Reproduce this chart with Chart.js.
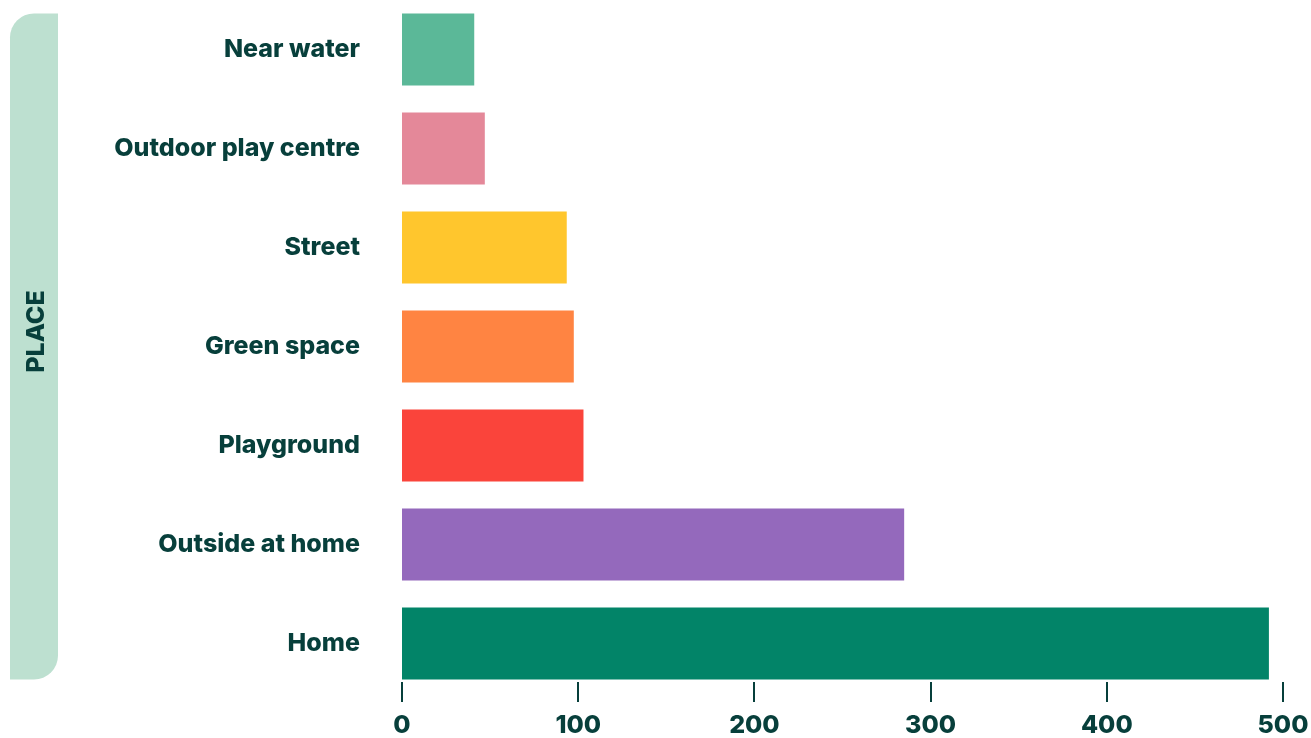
<!DOCTYPE html>
<html>
<head>
<meta charset="utf-8">
<script src="https://cdn.jsdelivr.net/npm/chart.js@4"></script>
<style>
  html, body { margin: 0; padding: 0; background: #fff; }
  #wrap { width: 1311px; height: 738px; }
</style>
</head>
<body>
<div id="wrap"><canvas id="grafico"></canvas></div>
<script>
const lugares = ["Near water", "Outdoor play centre", "Street", "Green space", "Playground", "Outside at home", "Home"];
const valores = [41, 47, 93.5, 97.5, 103, 285, 492];
const colores = ["#5bb898", "#e48899", "#ffc62d", "#ff8442", "#fa443b", "#9469bc", "#028468"];
const ticksX = [0, 100, 200, 300, 400, 500];
const tituloEje = "PLACE";

const TEXTO = "#073f3b";
const FUENTE = "Inter, 'Open Sans', sans-serif";

// fondo redondeado con el titulo del eje
const fondoEje = {
  id: "fondoEje",
  beforeDraw(chart) {
    const ctx = chart.ctx;
    const barras = chart.getDatasetMeta(0).data;
    const top = barras[0].y - barras[0].height / 2;
    const bottom = barras[barras.length - 1].y + barras[barras.length - 1].height / 2;
    const x = 10, w = 48, r = 24;
    ctx.save();
    ctx.fillStyle = "#bde0d0";
    ctx.beginPath();
    ctx.roundRect(x, top, w, bottom - top, [r, 0, r, 0]);
    ctx.fill();
    ctx.translate(x + w / 2 + 1, (top + bottom) / 2 - 15);
    ctx.rotate(-Math.PI / 2);
    ctx.fillStyle = TEXTO;
    ctx.font = "800 25px " + FUENTE;
    ctx.textAlign = "center";
    ctx.textBaseline = "middle";
    ctx.fillText(tituloEje, 0, 1);
    ctx.restore();
  }
};

// marcas de los ticks del eje x
const marcasX = {
  id: "marcasX",
  afterDatasetsDraw(chart) {
    const ctx = chart.ctx;
    const sx = chart.scales.x;
    const b = chart.chartArea.bottom;
    ctx.save();
    ctx.strokeStyle = TEXTO;
    ctx.lineWidth = 2;
    sx.ticks.forEach((t, i) => {
      const px = Math.round(sx.getPixelForTick(i));
      ctx.beginPath();
      ctx.moveTo(px, b - 11);
      ctx.lineTo(px, b + 9);
      ctx.stroke();
    });
    ctx.restore();
  }
};

new Chart(document.getElementById("grafico"), {
  type: "bar",
  data: {
    labels: lugares,
    datasets: [{
      data: valores,
      backgroundColor: colores,
      borderWidth: 0,
      categoryPercentage: 1,
      barPercentage: 0.727
    }]
  },
  options: {
    indexAxis: "y",
    responsive: true,
    maintainAspectRatio: false,
    animation: false,
    layout: { padding: 0 },
    plugins: {
      legend: { display: false },
      tooltip: { enabled: false }
    },
    scales: {
      x: {
        min: 0,
        max: 500,
        afterBuildTicks: (s) => { s.ticks = ticksX.map(v => ({ value: v })); },
        afterFit: (s) => { s.height = 45; s.paddingRight = 28; s.paddingLeft = 0; },
        grid: { display: false },
        border: { display: false },
        ticks: {
          color: TEXTO,
          font: { family: FUENTE, size: 25, weight: "800" },
          padding: 9,
          maxRotation: 0
        }
      },
      y: {
        afterFit: (s) => { s.width = 402; s.paddingTop = 0; s.paddingBottom = 0; },
        grid: { display: false },
        border: { display: false },
        ticks: {
          color: TEXTO,
          font: { family: FUENTE, size: 25, weight: "800" },
          padding: 34
        }
      }
    }
  },
  plugins: [fondoEje, marcasX]
});
</script>
</body>
</html>
